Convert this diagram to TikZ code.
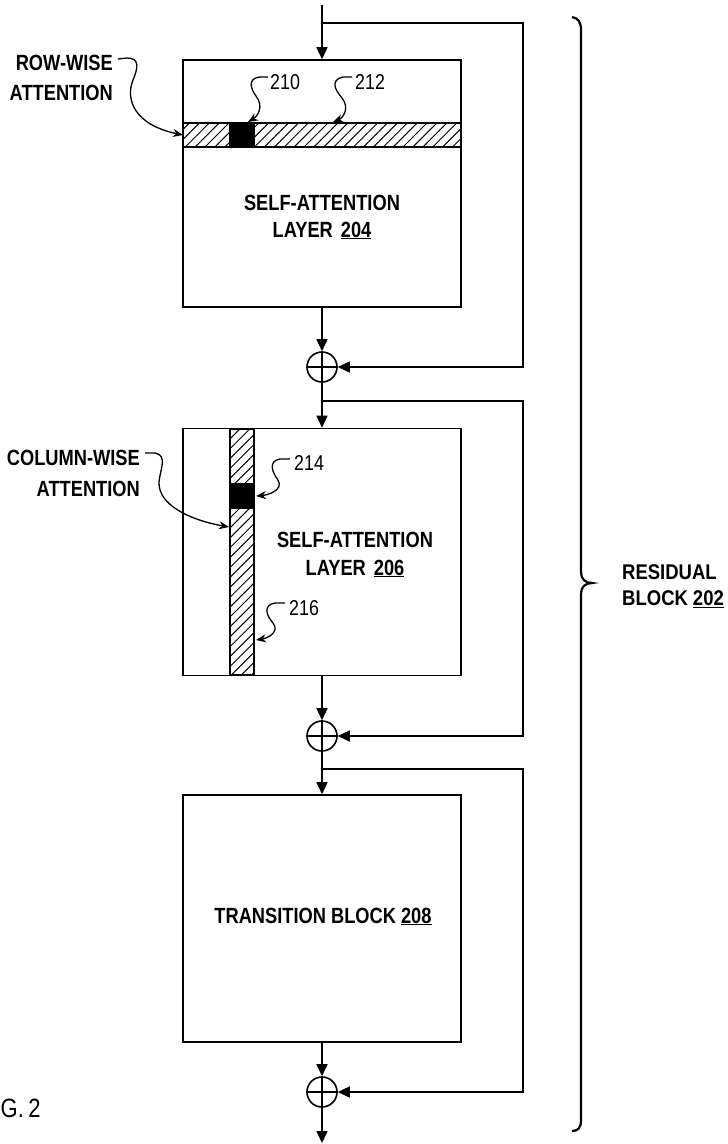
\documentclass[tikz,border=0pt]{standalone}
\usepackage{fontspec}
\setmainfont{Liberation Sans}
\newfontfamily\narrowfont[FakeStretch=0.83]{Liberation Sans}
\usetikzlibrary{arrows.meta,patterns.meta}
\begin{document}
\begin{tikzpicture}[x=1pt,y=-1pt,
  box/.style={draw,line width=1.6pt,minimum width=278pt,minimum height=247pt,inner sep=0pt},
  sumnode/.style={draw,circle,line width=1.6pt,minimum size=30pt,inner sep=0pt},
  conn/.style={line width=1.6pt,-{Triangle[length=12pt,width=11pt]}},
  wire/.style={line width=1.6pt},
  lead/.style={line width=1.3pt,-{Stealth[length=10pt,width=8pt]}},
  lbl/.style={inner sep=0pt,font={\narrowfont\bfseries\fontsize{22}{26}\selectfont}},
  num/.style={inner sep=0pt,font={\narrowfont\fontsize{21.5}{25}\selectfont}},
  hatch/.style={draw,line width=1.5pt,pattern={Lines[angle=45,distance=7pt,line width=1pt]}},
  reslbl/.style={inner sep=0pt,anchor=base west,font={\bfseries\fontsize{18.5}{22}\selectfont}},
]
\useasboundingbox (0,0) rectangle (728,1144);

% boxes
\node[box] (b204) at (322,183.5) {};
\node[box] (b206) at (322,552) {};
\node[box] (b208) at (322,918.5) {};

% hatched bands
\draw[hatch] (183,123) rectangle (461,147);
\draw[fill=black,line width=1.4pt] (230,123) rectangle (254,147);
\draw[hatch] (230,429) rectangle (254,675);
\draw[fill=black,line width=1.4pt] (230,484) rectangle (254,508);

% sum nodes
\node[sumnode] (s1) at (322,367) {};
\node[sumnode] (s2) at (322,736) {};
\node[sumnode] (s3) at (322,1092) {};
\foreach \s in {s1,s2,s3}{
  \draw[wire] (\s.north) -- (\s.south) (\s.west) -- (\s.east);
}

% connectors
\coordinate (in) at (322,5);
\coordinate (out) at (322,1143);
\coordinate (j1) at (322,23);
\coordinate (c1) at (523,23);
\coordinate (j2) at (322,401);
\coordinate (c2) at (523,401);
\coordinate (j3) at (322,769);
\coordinate (c3) at (523,769);

\draw[conn] (in) -- (b204.north);
\draw[conn] (j1) -- (c1) |- (s1.east);
\draw[conn] (b204.south) -- (s1.north);
\draw[conn] (s1.south) -- (b206.north);
\draw[conn] (j2) -- (c2) |- (s2.east);
\draw[conn] (b206.south) -- (s2.north);
\draw[conn] (s2.south) -- (b208.north);
\draw[conn] (j3) -- (c3) |- (s3.east);
\draw[conn] (b208.south) -- (s3.north);
\draw[conn] (s3.south) -- (out);

% box texts
\node[lbl,anchor=base] (t204a) at (322,210) {SELF-ATTENTION};
\node[lbl,anchor=base] (t204b) at (322,237) {LAYER\hspace{8pt}\underline{204}};
\node[lbl,anchor=base] (t206a) at (355,547) {SELF-ATTENTION};
\node[lbl,anchor=base] (t206b) at (355,575) {LAYER\hspace{8pt}\underline{206}};
\node[lbl,anchor=base] (t208) at (323,923) {TRANSITION BLOCK \underline{208}};

% side labels
\node[lbl,anchor=base east] (rw1) at (113,70) {ROW-WISE};
\node[lbl,anchor=base east] (rw2) at (113,100) {ATTENTION};
\node[lbl,anchor=base east] (cw1) at (140,465) {COLUMN-WISE};
\node[lbl,anchor=base east] (cw2) at (140,496) {ATTENTION};

\node[num,anchor=base west] (n210) at (270,89.5) {210};
\node[num,anchor=base west] (n212) at (355,89.5) {212};
\node[num,anchor=base west] (n214) at (294,470.5) {214};
\node[num,anchor=base west] (n216) at (289,615.5) {216};

% leaders
\coordinate (lr) at (118,59);
\coordinate (lr2) at (183,135);
\draw[lead] (lr) -- (127,58) .. controls (140,58) and (138,68) .. (133,80) .. controls (125,100) and (135,125) .. (lr2);
\coordinate (l210) at (268,77);
\coordinate (l210t) at (248,122);
\draw[lead] (l210) -- (260,77) .. controls (248,78) and (250,88) .. (256,96) .. controls (264,106) and (258,116) .. (l210t);
\coordinate (l212) at (352,77);
\coordinate (l212t) at (333,122);
\draw[lead] (l212) -- (343,77) .. controls (330,80) and (335,90) .. (342,98) .. controls (350,108) and (343,118) .. (l212t);
\coordinate (lc) at (145,453);
\coordinate (lct) at (229,527);
\draw[lead] (lc) -- (155,453) .. controls (168,455) and (160,470) .. (159,482) .. controls (158,505) and (190,520) .. (lct);
\coordinate (l214) at (290,459);
\coordinate (l214t) at (256,496);
\draw[lead] (l214) -- (280,459) .. controls (268,461) and (272,472) .. (278,480) .. controls (284,490) and (268,495) .. (l214t);
\coordinate (l216) at (285,603);
\coordinate (l216t) at (256,640);
\draw[lead] (l216) -- (275,603) .. controls (263,605) and (266,615) .. (273,623) .. controls (280,632) and (268,638) .. (l216t);

% brace
\draw[line width=2.2pt] (572,17) .. controls (578,18) and (581,22) .. (581,30) -- (581,572)
  .. controls (581,579) and (585,583) .. (592,583)
  .. controls (585,583) and (581,587) .. (581,594) -- (581,1120)
  .. controls (581,1128) and (578,1131) .. (572,1131);

\node[reslbl] (res1) at (622,579) {\scalebox{1}[1.15]{RESIDUAL}};
\node[reslbl] (res2) at (622,605) {\scalebox{1}[1.15]{BLOCK\hspace{5pt}\underline{202}}};

\node[inner sep=0pt,anchor=base west,font={\narrowfont\fontsize{26.5}{30}\selectfont}] (fig) at (0.5,1117) {G.\,2};
\end{tikzpicture}
\end{document}
